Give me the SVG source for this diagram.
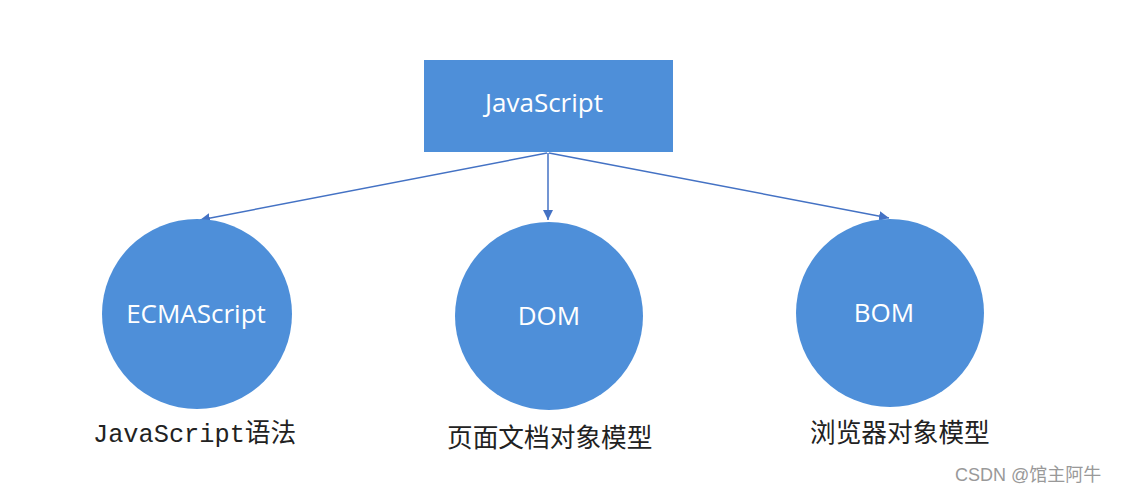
<svg xmlns="http://www.w3.org/2000/svg" width="1124" height="494" viewBox="0 0 1124 494">
<style>
.node{fill:#4e8fd9;}
.nt{fill:#ffffff;font-family:"Open Sans","Noto Sans",sans-serif;font-size:26px;text-anchor:middle;}
.lbl{fill:#222;font-family:"Noto Sans CJK SC",sans-serif;font-size:25.7px;}
.mono{font-family:"Liberation Mono","Noto Sans CJK SC",monospace;}
.edge{stroke:#4472c4;stroke-width:1.5;fill:none;marker-end:url(#ah);}
.wm{fill:#999;font-family:"Liberation Sans","Noto Sans CJK SC",sans-serif;font-size:18px;}
</style>
<defs>
<marker id="ah" viewBox="0 0 10 10" refX="10" refY="5" markerWidth="10" markerHeight="10" markerUnits="userSpaceOnUse" orient="auto">
<path d="M0,0 L10,5 L0,10 z" fill="#4472c4"/>
</marker>
</defs>
<rect width="1124" height="494" fill="#ffffff"/>
<g id="edges">
<line class="edge" x1="547" y1="153" x2="200" y2="220"/>
<line class="edge" x1="548" y1="153" x2="548" y2="220"/>
<line class="edge" x1="549" y1="153" x2="889" y2="218"/>
</g>
<g id="javascript">
<rect class="node" x="424" y="60" width="249" height="92"/>
<text class="nt" x="544" y="112">JavaScript</text>
</g>
<g id="ecmascript">
<circle class="node" cx="197" cy="314" r="95"/>
<text class="nt" x="196" y="323">ECMAScript</text>
<text class="lbl" x="93" y="442" font-size="24"><tspan class="mono" font-size="25.3">JavaScript</tspan>语法</text>
</g>
<g id="dom">
<circle class="node" cx="549" cy="316" r="94"/>
<text class="nt" x="549" y="325">DOM</text>
<text class="lbl" x="447" y="447">页面文档对象模型</text>
</g>
<g id="bom">
<circle class="node" cx="890" cy="313" r="94"/>
<text class="nt" x="884" y="322">BOM</text>
<text class="lbl" x="810" y="442">浏览器对象模型</text>
</g>
<text class="wm" x="955" y="481">CSDN @馆主阿牛</text>
</svg>
